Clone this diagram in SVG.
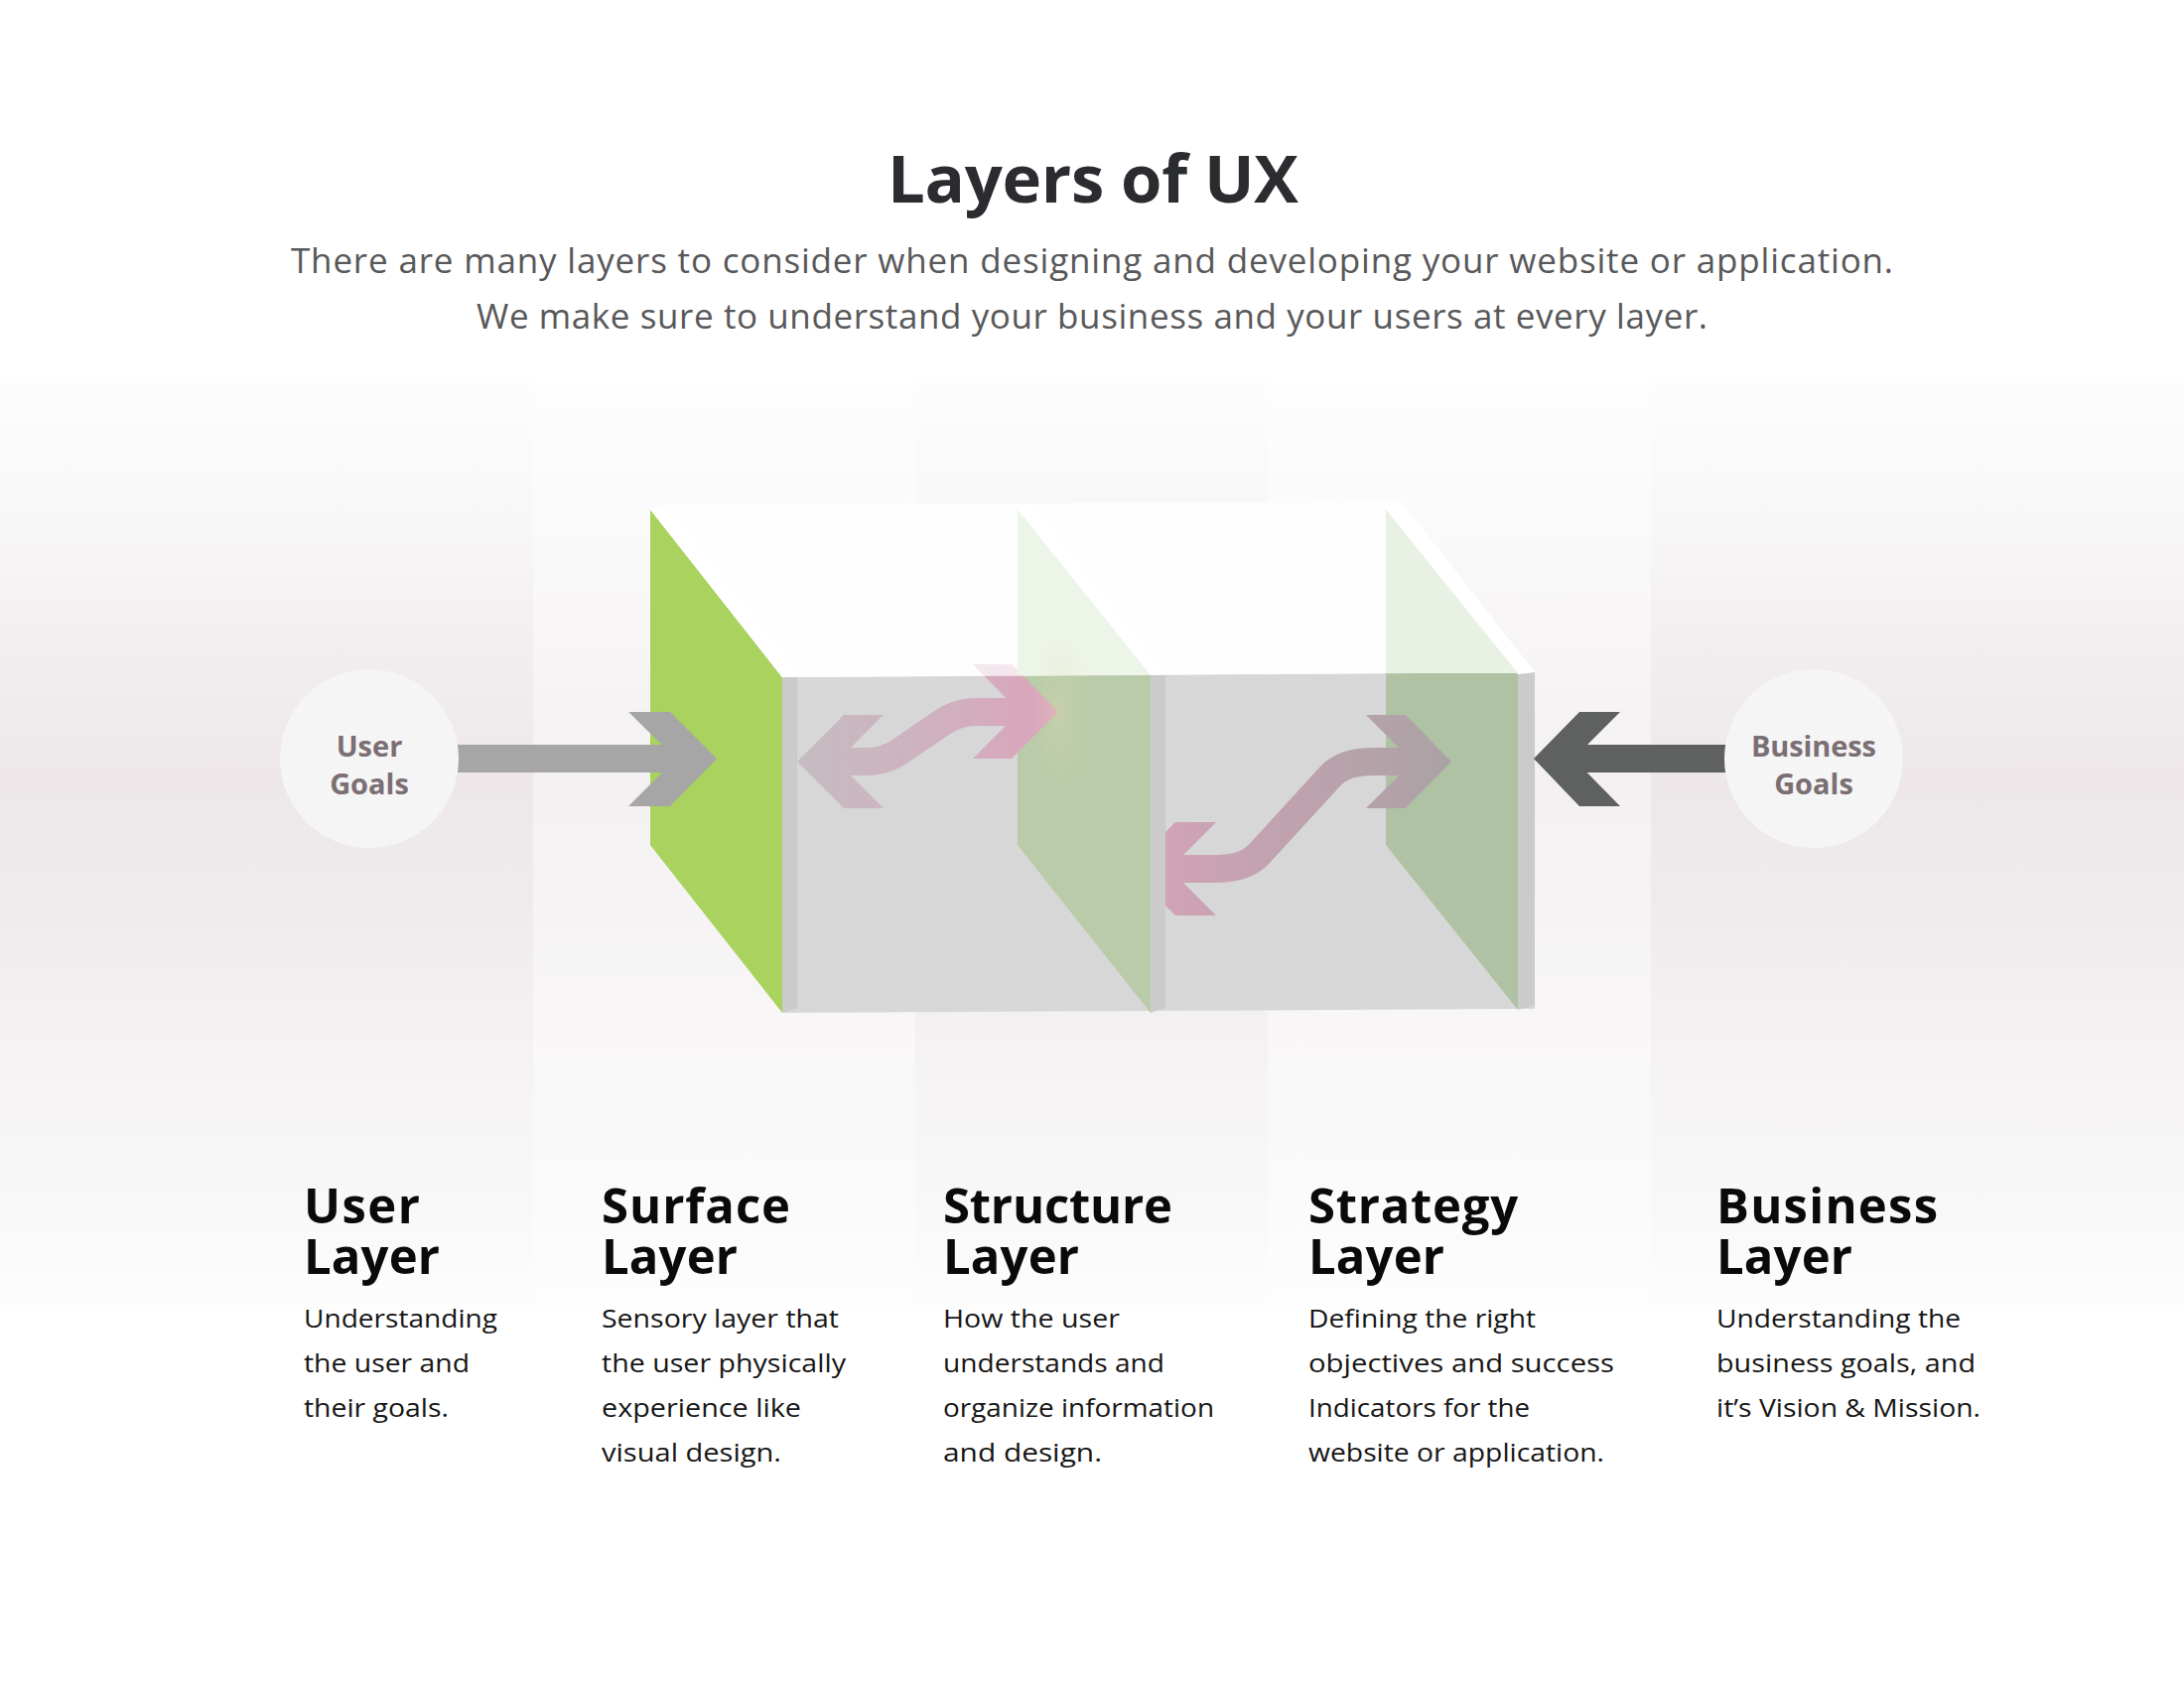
<svg xmlns="http://www.w3.org/2000/svg" width="2200" height="1700" viewBox="0 0 2200 1700">
<style>
.title{font-family:"Open Sans","Liberation Sans",sans-serif;font-weight:700;font-size:67px;fill:#2b2c30}
.sub{font-family:"Open Sans","Liberation Sans",sans-serif;font-size:35px;fill:#58585a}
.head{font-family:"Open Sans","Liberation Sans",sans-serif;font-weight:700;font-size:49px;fill:#0a0a0a}
.desc{font-family:"Open Sans","Liberation Sans",sans-serif;font-size:26px;fill:#161616}
.goal{font-family:"Open Sans","Liberation Sans",sans-serif;font-weight:700;font-size:29px;fill:#7b6f74}
.goalc{fill:#f5f5f5}
.strip{fill:#cbcbcb}
.hl{fill:#ffffff}
</style>
<defs>
<linearGradient id="bg" gradientUnits="userSpaceOnUse" x1="0" y1="385" x2="0" y2="1320">
<stop offset="0" stop-color="#fdfdfd"/>
<stop offset="0.13" stop-color="#f9f8f8"/>
<stop offset="0.29" stop-color="#f2eef0"/>
<stop offset="0.43" stop-color="#ede7e9"/>
<stop offset="0.56" stop-color="#efebec"/>
<stop offset="0.72" stop-color="#f5f2f3"/>
<stop offset="0.86" stop-color="#f8f7f7"/>
<stop offset="1" stop-color="#fdfdfd"/>
</linearGradient>
<linearGradient id="p1" gradientUnits="userSpaceOnUse" x1="803" y1="0" x2="1066" y2="0">
<stop offset="0" stop-color="#c5bcc1"/>
<stop offset="0.5" stop-color="#cfb1bf"/>
<stop offset="1" stop-color="#dba4bc"/>
</linearGradient>
<linearGradient id="p2" gradientUnits="userSpaceOnUse" x1="1137" y1="0" x2="1462" y2="0">
<stop offset="0" stop-color="#d6a3ba"/>
<stop offset="0.5" stop-color="#bfa2ae"/>
<stop offset="1" stop-color="#aaa2a5"/>
</linearGradient>
<radialGradient id="glow" cx="0.5" cy="0.5" r="0.5">
<stop offset="0" stop-color="#e2d8b0" stop-opacity="0.3"/>
<stop offset="1" stop-color="#e2d8b0" stop-opacity="0"/>
</radialGradient>
<clipPath id="clip2"><rect x="1174" y="600" width="400" height="400"/></clipPath>
</defs>

<g id="background">
<rect x="0" y="0" width="2200" height="1700" fill="#ffffff"/>
<rect x="0" y="385" width="2200" height="935" fill="url(#bg)"/>
<rect x="537" y="385" width="385" height="935" fill="#ffffff" fill-opacity="0.4"/>
<rect x="1277" y="385" width="386" height="935" fill="#ffffff" fill-opacity="0.4"/>
</g>

<g id="header">
<text class="title" x="1101" y="204" text-anchor="middle" textLength="414">Layers of UX</text>
<text class="sub" x="1100" y="275" text-anchor="middle" textLength="1614">There are many layers to consider when designing and developing your website or application.</text>
<text class="sub" x="1100" y="331" text-anchor="middle" textLength="1240">We make sure to understand your business and your users at every layer.</text>
</g>

<g id="layers-box">
<polygon points="788,682 1546,677 1546,1016 788,1020" fill="#d7d7d7"/>
<polygon points="1025,680 1159,680 1159,1020 1025,851" fill="#b9cba9"/>
<polygon points="1396,678 1529,677 1529,1017 1396,851" fill="#afc3a4"/>
<polygon class="strip" points="788,682 803,678 803,1015 788,1020"/>
<polygon class="strip" points="1159,680 1174,679 1174,1015 1159,1020"/>
<polygon class="strip" points="1529,679 1546,677 1546,1012 1529,1017"/>
<polygon points="655,513 788,682 788,1020 655,851" fill="#a9d25e"/>
<polygon points="655,513 670,508 1412,506 1546,677 788,682" fill="#fcfcfc"/>
<polygon class="hl" points="655,513 670,508 804,678 788,682"/>
<polygon class="hl" points="1025,513 1040,508 1174,679 1159,680"/>
<polygon class="hl" points="1396,513 1412,506 1546,677 1529,679"/>
</g>

<g id="connectors">
<g id="user-arrow" fill="#a6a6a6">
<rect x="458" y="750" width="224" height="28"/>
<polygon points="633,717 675,717 722,764 675,812 633,812 681,764"/>
</g>
<g id="business-arrow" fill="#5f6060">
<rect x="1584" y="750" width="158" height="28"/>
<polygon points="1591,717 1632,717 1585,764 1632,812 1591,812 1545,764"/>
</g>
<g id="surface-structure-arrow">
<path d="M 840 767 L 872 767 Q 892 767 908 755.6 L 948 728.4 Q 964 717 984 717 L 1030 717" fill="none" stroke="url(#p1)" stroke-width="28"/>
<polygon points="850,720 890,720 843,767 890,814 850,814 803,767" fill="url(#p1)"/>
<polygon points="980,669 1019,669 1066,717 1019,764 980,764 1027,717" fill="url(#p1)"/>
</g>
<g id="structure-strategy-arrow" clip-path="url(#clip2)">
<path d="M 1170 875 L 1224 875 Q 1254.5 875 1268 860.3 L 1340 781.7 Q 1353.5 767 1383 767 L 1425 767" fill="none" stroke="url(#p2)" stroke-width="28"/>
<polygon points="1184,828 1225,828 1178,875 1225,922 1184,922 1137,875" fill="url(#p2)"/>
<polygon points="1376,720 1416,720 1462,767 1416,814 1376,814 1423,767" fill="url(#p2)"/>
</g>
</g>

<g id="layers-box-top">
<polygon points="655,513 670,508 1412,506 1546,677 1159,680 788,682" fill="#ffffff" fill-opacity="0.72"/>
<polygon points="1025,513 1159,680 1025,680" fill="#edf5e8"/>
<polygon points="1396,513 1529,678 1396,678" fill="#e8f1e4"/>
<ellipse cx="1068" cy="720" rx="30" ry="80" fill="url(#glow)"/>
</g>

<g id="user-goals">
<circle class="goalc" cx="372" cy="764" r="90"/>
<text class="goal" x="372" y="762" text-anchor="middle">User</text>
<text class="goal" x="372" y="800" text-anchor="middle">Goals</text>
</g>
<g id="business-goals">
<circle class="goalc" cx="1827" cy="764" r="90"/>
<text class="goal" x="1827" y="762" text-anchor="middle" textLength="126">Business</text>
<text class="goal" x="1827" y="800" text-anchor="middle">Goals</text>
</g>

<g id="user-layer">
<text class="head" x="306" y="1232" textLength="117">User</text>
<text class="head" x="306" y="1283" textLength="137">Layer</text>
<text class="desc" x="306" y="1337" textLength="195" lengthAdjust="spacingAndGlyphs">Understanding</text>
<text class="desc" x="306" y="1382" textLength="167" lengthAdjust="spacingAndGlyphs">the user and</text>
<text class="desc" x="306" y="1427" textLength="146" lengthAdjust="spacingAndGlyphs">their goals.</text>
</g>
<g id="surface-layer">
<text class="head" x="606" y="1232" textLength="190">Surface</text>
<text class="head" x="606" y="1283" textLength="137">Layer</text>
<text class="desc" x="606" y="1337" textLength="239" lengthAdjust="spacingAndGlyphs">Sensory layer that</text>
<text class="desc" x="606" y="1382" textLength="246" lengthAdjust="spacingAndGlyphs">the user physically</text>
<text class="desc" x="606" y="1427" textLength="201" lengthAdjust="spacingAndGlyphs">experience like</text>
<text class="desc" x="606" y="1472" textLength="181" lengthAdjust="spacingAndGlyphs">visual design.</text>
</g>
<g id="structure-layer">
<text class="head" x="950" y="1232" textLength="231">Structure</text>
<text class="head" x="950" y="1283" textLength="137">Layer</text>
<text class="desc" x="950" y="1337" textLength="178" lengthAdjust="spacingAndGlyphs">How the user</text>
<text class="desc" x="950" y="1382" textLength="223" lengthAdjust="spacingAndGlyphs">understands and</text>
<text class="desc" x="950" y="1427" textLength="273" lengthAdjust="spacingAndGlyphs">organize information</text>
<text class="desc" x="950" y="1472" textLength="160" lengthAdjust="spacingAndGlyphs">and design.</text>
</g>
<g id="strategy-layer">
<text class="head" x="1318" y="1232" textLength="211">Strategy</text>
<text class="head" x="1318" y="1283" textLength="137">Layer</text>
<text class="desc" x="1318" y="1337" textLength="229" lengthAdjust="spacingAndGlyphs">Defining the right</text>
<text class="desc" x="1318" y="1382" textLength="308" lengthAdjust="spacingAndGlyphs">objectives and success</text>
<text class="desc" x="1318" y="1427" textLength="223" lengthAdjust="spacingAndGlyphs">Indicators for the</text>
<text class="desc" x="1318" y="1472" textLength="298" lengthAdjust="spacingAndGlyphs">website or application.</text>
</g>
<g id="business-layer">
<text class="head" x="1729" y="1232" textLength="223">Business</text>
<text class="head" x="1729" y="1283" textLength="137">Layer</text>
<text class="desc" x="1729" y="1337" textLength="246" lengthAdjust="spacingAndGlyphs">Understanding the</text>
<text class="desc" x="1729" y="1382" textLength="261" lengthAdjust="spacingAndGlyphs">business goals, and</text>
<text class="desc" x="1729" y="1427" textLength="266" lengthAdjust="spacingAndGlyphs">it’s Vision &amp; Mission.</text>
</g>
</svg>
